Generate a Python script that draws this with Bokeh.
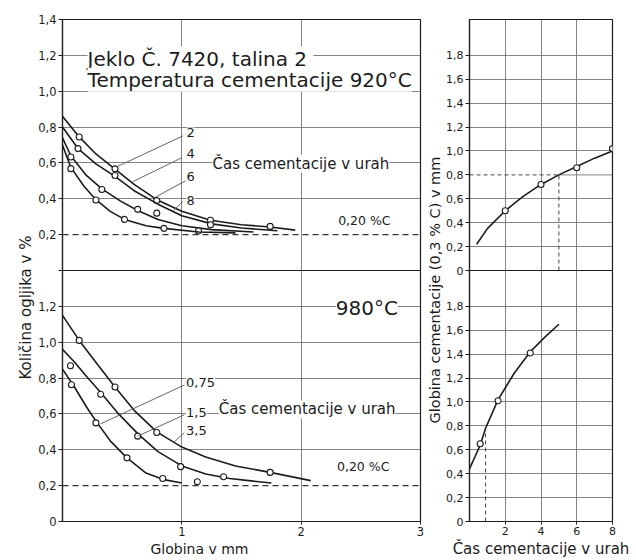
import math
from bokeh.plotting import figure
from bokeh.models import Range1d, FixedTicker, Label, Span, Title
from bokeh.layouts import row
from bokeh.embed import file_html
from bokeh.resources import INLINE

FONT = "DejaVu Sans"
INK = "#1c1c1c"
GRID = "#6e6e6e"

# ---------------- 920 °C: carbon content (%) against depth (mm) ----------------
hours_920 = ["2", "4", "6", "8"]
depth_920_8h = [0.0, 0.14, 0.28, 0.44, 0.60, 0.79, 1.00, 1.24, 1.50, 1.74, 1.95]
carb_920_8h = [0.86, 0.745, 0.65, 0.565, 0.48, 0.395, 0.33, 0.28, 0.255, 0.243, 0.225]
depth_920_6h = [0.0, 0.13, 0.28, 0.44, 0.60, 0.80, 1.00, 1.25, 1.50, 1.80]
carb_920_6h = [0.80, 0.68, 0.595, 0.525, 0.445, 0.37, 0.305, 0.26, 0.237, 0.222]
depth_920_4h = [0.0, 0.07, 0.20, 0.33, 0.48, 0.63, 0.80, 1.00, 1.25, 1.60]
carb_920_4h = [0.74, 0.64, 0.53, 0.455, 0.39, 0.335, 0.285, 0.25, 0.228, 0.215]
depth_920_2h = [0.0, 0.07, 0.18, 0.28, 0.40, 0.52, 0.70, 0.85, 1.14, 1.45]
carb_920_2h = [0.70, 0.575, 0.47, 0.395, 0.33, 0.285, 0.25, 0.235, 0.215, 0.21]

pts_920_8h_x = [0.14, 0.44, 0.79, 1.24, 1.74]
pts_920_8h_y = [0.745, 0.567, 0.39, 0.28, 0.246]
pts_920_6h_x = [0.13, 0.44, 0.79, 1.24]
pts_920_6h_y = [0.68, 0.53, 0.32, 0.255]
pts_920_4h_x = [0.07, 0.33, 0.63, 1.14]
pts_920_4h_y = [0.633, 0.452, 0.341, 0.22]
pts_920_2h_x = [0.07, 0.28, 0.52, 0.85]
pts_920_2h_y = [0.568, 0.393, 0.285, 0.235]

# ---------------- 980 °C: carbon content (%) against depth (mm) ----------------
hours_980 = ["0,75", "1,5", "3,5"]
depth_980_35h = [0.0, 0.14, 0.30, 0.44, 0.60, 0.79, 1.00, 1.20, 1.45, 1.74, 2.08]
carb_980_35h = [1.15, 1.01, 0.87, 0.75, 0.62, 0.50, 0.415, 0.36, 0.31, 0.274, 0.228]
depth_980_15h = [0.0, 0.10, 0.20, 0.32, 0.47, 0.63, 0.80, 1.00, 1.20, 1.40, 1.60, 1.75]
carb_980_15h = [0.96, 0.89, 0.81, 0.72, 0.60, 0.49, 0.39, 0.31, 0.265, 0.24, 0.225, 0.215]
depth_980_075h = [0.0, 0.10, 0.20, 0.28, 0.40, 0.54, 0.70, 0.84, 1.00]
carb_980_075h = [0.85, 0.75, 0.64, 0.56, 0.45, 0.355, 0.27, 0.235, 0.215]

pts_980_35h_x = [0.14, 0.44, 0.79, 1.74]
pts_980_35h_y = [1.01, 0.75, 0.496, 0.274]
pts_980_15h_x = [0.067, 0.32, 0.63, 0.99, 1.35]
pts_980_15h_y = [0.869, 0.71, 0.476, 0.306, 0.25]
pts_980_075h_x = [0.075, 0.28, 0.54, 0.84, 1.13]
pts_980_075h_y = [0.763, 0.55, 0.355, 0.24, 0.222]

core_carbon = 0.20

# ---------------- case depth (0,3 % C) against carburizing time ----------------
time_920_curve = [0.4, 1.0, 2.0, 3.0, 4.0, 5.0, 6.0, 7.0, 8.0]
case_920_curve = [0.22, 0.35, 0.50, 0.62, 0.72, 0.80, 0.87, 0.94, 1.0]
time_920_pts = [2, 4, 6, 8]
case_920_pts = [0.50, 0.72, 0.86, 1.02]
time_920_read, case_920_read = 5.0, 0.80

time_980_curve = [0.0, 0.6, 0.9, 1.6, 2.5, 3.4, 4.2, 5.0]
case_980_curve = [0.44, 0.64, 0.78, 1.02, 1.24, 1.42, 1.54, 1.65]
time_980_pts = [0.6, 1.6, 3.4]
case_980_pts = [0.65, 1.01, 1.41]
time_980_read, case_980_read = 0.9, 0.78

# ---------------- tick values ----------------
carb_ticks_980 = [0, 0.2, 0.4, 0.6, 0.8, 1.0, 1.2]
carb_ticks_920 = [0.2, 0.4, 0.6, 0.8, 1.0, 1.2, 1.4]
depth_ticks = [1, 2, 3]
case_ticks = [0, 0.2, 0.4, 0.6, 0.8, 1.0, 1.2, 1.4, 1.6, 1.8]
time_ticks = [2, 4, 6, 8]


def comma(v):
    return "0" if v == 0 else f"{v:.1f}".replace(".", ",")


def style_axes(p, label_size):
    for ax in (p.xaxis[0], p.yaxis[0]):
        ax.axis_line_color = INK
        ax.axis_line_width = 1.2
        ax.major_tick_line_color = INK
        ax.major_tick_out = 4
        ax.major_tick_in = 0
        ax.minor_tick_line_color = None
        ax.major_label_text_font = FONT
        ax.major_label_text_font_size = label_size
        ax.major_label_text_color = INK
        ax.major_label_standoff = 2
    p.outline_line_color = INK
    p.outline_line_width = 1.2
    p.grid.grid_line_color = GRID
    p.grid.grid_line_width = 1
    p.grid.grid_line_alpha = 0.85
    p.background_fill_color = "white"
    p.border_fill_color = "white"


def text(p, x, y, s, size, y_range_name="default", align="left", baseline="middle", bg="white"):
    p.add_layout(Label(x=x, y=y, text=s, y_range_name=y_range_name,
                       text_font=FONT, text_font_size=size, text_color=INK,
                       text_align=align, text_baseline=baseline,
                       background_fill_color=bg))


def title(p, s, side, size="14px", align="center", offset=0):
    p.add_layout(Title(text=s, align=align, offset=offset, standoff=1,
                       text_font=FONT, text_font_size=size, text_font_style="normal",
                       text_color=INK), side)


def curve(p, xs, ys, px, py, rng):
    p.line(xs, ys, line_color=INK, line_width=1.6, y_range_name=rng)
    p.scatter(px, py, marker="circle", size=6, fill_color="white",
              line_color=INK, line_width=1.1, y_range_name=rng)


# ======================= left column: carbon profiles =======================
SPAN_L = 1.4  # each panel spans 0 .. 1,4 % C
left = figure(width=424, height=560, x_range=Range1d(0, 3), y_range=Range1d(0, 2 * SPAN_L),
              output_backend="svg", toolbar_location=None,
              min_border_left=62, min_border_right=4, min_border_top=19, min_border_bottom=36)
left.extra_y_ranges = {"upper": Range1d(-SPAN_L, SPAN_L)}
style_axes(left, "11.5px")

upper_pos = [round(v + SPAN_L, 6) for v in carb_ticks_920]
left.yaxis[0].ticker = FixedTicker(ticks=carb_ticks_980 + [SPAN_L] + upper_pos)
labels = {p: comma(v) for p, v in zip(carb_ticks_980, carb_ticks_980)}
labels[SPAN_L] = ""
labels.update({p: comma(v) for p, v in zip(upper_pos, carb_ticks_920)})
left.yaxis[0].major_label_overrides = labels
left.xaxis[0].ticker = FixedTicker(ticks=depth_ticks)
left.xaxis[0].major_tick_out = 3
left.xgrid.ticker = FixedTicker(ticks=[1, 2])
left.ygrid.ticker = FixedTicker(ticks=[v for v in carb_ticks_980 if v not in (0, core_carbon)]
                                + [p for p, v in zip(upper_pos, carb_ticks_920)
                                   if v not in (core_carbon, SPAN_L)])

# divider between the two temperature panels and the 0,20 % C core lines
left.add_layout(Span(location=SPAN_L, dimension="width", line_color=INK, line_width=1.2))
for rng in ("default", "upper"):
    left.add_layout(Span(location=core_carbon, dimension="width", y_range_name=rng,
                         line_color="#333333", line_width=1.2, line_dash="6 4"))

curve(left, depth_920_8h, carb_920_8h, pts_920_8h_x, pts_920_8h_y, "upper")
curve(left, depth_920_6h, carb_920_6h, pts_920_6h_x, pts_920_6h_y, "upper")
curve(left, depth_920_4h, carb_920_4h, pts_920_4h_x, pts_920_4h_y, "upper")
curve(left, depth_920_2h, carb_920_2h, pts_920_2h_x, pts_920_2h_y, "upper")

curve(left, depth_980_35h, carb_980_35h, pts_980_35h_x, pts_980_35h_y, "default")
curve(left, depth_980_15h, carb_980_15h, pts_980_15h_x, pts_980_15h_y, "default")
curve(left, depth_980_075h, carb_980_075h, pts_980_075h_x, pts_980_075h_y, "default")

# leader lines from the time labels down to the curves
lead_920_y = [0.772, 0.650, 0.523, 0.390]
lead_920_start = [(1.01, 0.751), (1.00, 0.629), (1.03, 0.50), (1.01, 0.385)]
lead_920_end = [(0.46, 0.58), (0.59, 0.496), (0.755, 0.40), (0.93, 0.335)]
for lab, ly, (sx, sy), (ex, ey) in zip(hours_920, lead_920_y, lead_920_start, lead_920_end):
    left.line([sx, ex], [sy, ey], line_color="#555555", line_width=0.9, y_range_name="upper")
    text(left, 1.04, ly, lab, "13px", "upper")

lead_980_y = [0.776, 0.61, 0.51]
lead_980_end = [(0.32, 0.545), (pts_980_15h_x[2], pts_980_15h_y[2]), (0.93, 0.44)]
for lab, ly, (ex, ey) in zip(hours_980, lead_980_y, lead_980_end):
    left.line([1.02, ex], [ly - 0.015, ey], line_color="#555555", line_width=0.9)
    text(left, 1.035, ly, lab, "13px")

text(left, 0.21, 1.182, "Jeklo Č. 7420,  talina 2", "20px", "upper", baseline="alphabetic")
text(left, 0.21, 1.064, "Temperatura cementacije 920°C", "20px", "upper", baseline="alphabetic")
text(left, 1.257, 0.595, "Čas cementacije v urah", "15px", "upper")
text(left, 2.31, 0.28, "0,20 %C", "12.5px", "upper", bg=None)
text(left, 2.29, 1.19, "980°C", "20px")
text(left, 1.31, 0.625, "Čas cementacije v urah", "15px")
text(left, 2.30, 0.305, "0,20 %C", "12.5px", bg=None)

title(left, "Količina ogljika v %", "left", size="15px", align="left", offset=142)
title(left, "Globina v mm", "below", align="left", offset=88)

# ======================= right column: case depth vs time =======================
SPAN_R = 2.1
right = figure(width=212, height=560, x_range=Range1d(0, 8), y_range=Range1d(0, 2 * SPAN_R),
               output_backend="svg", toolbar_location=None,
               min_border_left=44, min_border_right=24, min_border_top=16, min_border_bottom=39)
right.extra_y_ranges = {"upper": Range1d(-SPAN_R, SPAN_R)}
style_axes(right, "11px")

case_upper_pos = [round(v + SPAN_R, 6) for v in case_ticks]
right.yaxis[0].ticker = FixedTicker(ticks=case_ticks + case_upper_pos)
rlabels = {p: comma(v) for p, v in zip(case_ticks, case_ticks)}
rlabels.update({p: comma(v) for p, v in zip(case_upper_pos, case_ticks)})
right.yaxis[0].major_label_overrides = rlabels
right.xaxis[0].ticker = FixedTicker(ticks=time_ticks)
right.xaxis[0].major_tick_out = 3
right.xgrid.ticker = FixedTicker(ticks=[2, 4, 6])
right.ygrid.ticker = FixedTicker(ticks=[v for v in case_ticks if v > 0]
                                 + [p for p, v in zip(case_upper_pos, case_ticks)
                                    if v > 0 and v != case_920_read])
right.add_layout(Span(location=SPAN_R, dimension="width", line_color=INK, line_width=1.2))

# 0,8 mm reading for 5 h at 920 °C, and for 0,9 h at 980 °C
right.line([0, time_920_read], [case_920_read, case_920_read], line_color="#444444",
           line_width=1, line_dash="4 3", y_range_name="upper")
right.line([time_920_read, 8], [case_920_read, case_920_read], line_color=GRID,
           line_width=1, alpha=0.85, y_range_name="upper")
right.line([time_920_read, time_920_read], [0, case_920_read], line_color="#444444",
           line_width=1, line_dash="4 3", y_range_name="upper")
right.line([time_980_read, time_980_read], [0, case_980_read], line_color="#444444",
           line_width=1, line_dash="4 3")

curve(right, time_920_curve, case_920_curve, time_920_pts, case_920_pts, "upper")
curve(right, time_980_curve, case_980_curve, time_980_pts, case_980_pts, "default")

title(right, "Globina cementacije (0,3 % C) v mm", "left", size="14.5px", align="left", offset=98)
title(right, "Čas cementacije v urah", "below", size="15px", align="center")

layout = row(left, right, spacing=0)
open("out.html", "w").write(file_html(layout, INLINE))
